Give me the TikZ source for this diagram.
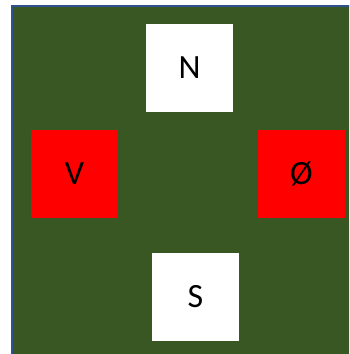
\documentclass[tikz,border=0pt]{standalone}
\usepackage{fontspec}
\setmainfont{Carlito}
\definecolor{fieldgreen}{HTML}{385723}
\definecolor{edgeblue}{HTML}{2F528F}
\begin{document}
\begin{tikzpicture}[x=1pt,y=-1pt,
  tile/.style={shape=rectangle, minimum width=87pt, minimum height=88pt, inner sep=0pt, font=\fontsize{34}{34}\selectfont},
  pole/.style={tile, fill=white},
  side/.style={tile, fill=red}]
\useasboundingbox (0,0) rectangle (349,354);
\clip (0,0) rectangle (349,354);
\draw[fill=fieldgreen, draw=edgeblue, line width=2.5pt] (12,6) rectangle (360,370);
\draw (189.5, 68) node[pole] (n) {N};
\draw (74.5, 174) node[side] (v) {V};
\draw (301.5, 174) node[side] (o) {Ø};
\draw (195.5, 297) node[pole] (s) {S};
\end{tikzpicture}
\end{document}
